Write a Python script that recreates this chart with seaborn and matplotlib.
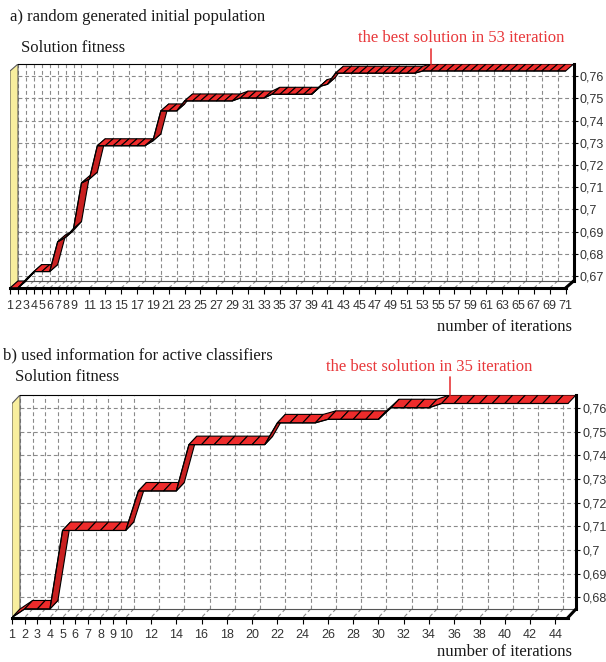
import numpy as np
import matplotlib
matplotlib.use("Agg")
import matplotlib.pyplot as plt
from matplotlib.patches import Polygon
import seaborn as sns

# Best solution fitness after each iteration
# a) random generated initial population (71 iterations)
fitness_a = [
    0.6677, 0.6677, 0.6715, 0.6751, 0.6751, 0.6751, 0.6885, 0.6905, 0.6945, 0.7150,
    0.7168, 0.7318, 0.7318, 0.7318, 0.7318, 0.7318, 0.7318, 0.7318, 0.7340, 0.7475,
    0.7475, 0.7475, 0.7520, 0.7520, 0.7520, 0.7520, 0.7520, 0.7520, 0.7520, 0.7533,
    0.7533, 0.7533, 0.7533, 0.7550, 0.7550, 0.7550, 0.7550, 0.7550, 0.7550, 0.7585,
    0.7595, 0.7645, 0.7645, 0.7645, 0.7645, 0.7645, 0.7645, 0.7645, 0.7645, 0.7645,
    0.7645, 0.7645, 0.7655, 0.7655, 0.7655, 0.7655, 0.7655, 0.7655, 0.7655, 0.7655,
    0.7655, 0.7655, 0.7655, 0.7655, 0.7655, 0.7655, 0.7655, 0.7655, 0.7655, 0.7655,
    0.7655,
]
# b) used information for active classifiers (45 iterations)
fitness_b = [
    0.6750, 0.6786, 0.6786, 0.6786, 0.7118, 0.7118, 0.7118, 0.7118, 0.7118, 0.7118,
    0.7285, 0.7285, 0.7285, 0.7285, 0.7481, 0.7481, 0.7481, 0.7481, 0.7481, 0.7481,
    0.7481, 0.7573, 0.7573, 0.7573, 0.7573, 0.7588, 0.7588, 0.7588, 0.7588, 0.7588,
    0.7637, 0.7637, 0.7637, 0.7637, 0.7655, 0.7655, 0.7655, 0.7655, 0.7655, 0.7655,
    0.7655, 0.7655, 0.7655, 0.7655, 0.7655,
]

iter_labels_a = list(range(1, 10)) + list(range(11, 72, 2))
iter_labels_b = list(range(1, 11)) + list(range(12, 45, 2))
fitness_ticks_a = [0.67, 0.68, 0.69, 0.70, 0.71, 0.72, 0.73, 0.74, 0.75, 0.76]
fitness_ticks_b = [0.68, 0.69, 0.70, 0.71, 0.72, 0.73, 0.74, 0.75, 0.76]
best_iter_a = 53
best_iter_b = 35

title_a = "a) random generated initial population"
title_b = "b) used information for active classifiers"
y_title = "Solution fitness"
x_title = "number of iterations"

sns.set_theme(style="white")
plt.rcParams["font.family"] = ["Liberation Sans", "DejaVu Sans"]
SERIF = ["Liberation Serif", "DejaVu Serif"]

W, H = 606, 662
fig = plt.figure(figsize=(W / 100, H / 100), dpi=100)

RIBBON_TOP = "#ee2b2b"
RIBBON_SIDE = "#c92020"
WALL = "#f8ee9e"
GRID = "#8a8a8a"
RED = "#e8383b"
TEXT = "#1a1a1a"
TICK_TEXT = "#333333"
DASH = (0, (3.5, 2.5))


def fx(px):
    return px / W


def fy(py):
    return 1 - py / H


def draw_panel(back_px, depth_px, fitness, iter_labels, y_ticks, best_iter, marker_px):
    """3D ribbon chart; back_px = (left, top, right, bottom) of the back wall in pixels."""
    left, top, right, bottom = back_px
    ddx, ddy = depth_px
    fit = np.asarray(fitness, dtype=float)
    n = len(fit)
    it = np.arange(1, n + 1)
    vmin, vmax = fit.min(), fit.max()
    upx = (n - 1) / (right - left)          # iterations per pixel
    vpx = (vmax - vmin) / (bottom - top)    # fitness per pixel
    dx, dy = ddx * upx, ddy * vpx           # depth of the box in data units

    ax = fig.add_axes([fx(left - ddx), fy(bottom + ddy),
                       (right - left + ddx) / W, (bottom + ddy - top) / H])
    ax.set_facecolor("white")

    # back wall grid
    ax.hlines(y_ticks, 1, n, colors=GRID, linestyles=DASH, lw=0.8, zorder=1)
    ax.vlines(iter_labels, vmin, vmax, colors=GRID, linestyles=DASH, lw=0.8, zorder=1)
    ax.hlines(vmin, 1, n, colors="#555555", lw=0.8, zorder=2)

    # floor grid
    for t in iter_labels:
        ax.plot([t, t - dx], [vmin, vmin - dy], color=GRID, lw=0.8, ls=DASH, zorder=1)

    # left wall
    ax.add_patch(Polygon([(1, vmin), (1, vmax), (1 - dx, vmax - dy), (1 - dx, vmin - dy)],
                         closed=True, fc=WALL, ec="#5a5a5a", lw=0.8, zorder=2))

    # right floor edge
    ax.plot([n, n - dx], [vmin, vmin - dy], color="black", lw=2.2,
            solid_capstyle="projecting", clip_on=False, zorder=3)

    # ribbon, one face per segment
    for i in range(n - 1):
        x0, x1 = it[i], it[i + 1]
        y0, y1 = fit[i], fit[i + 1]
        sx = (x1 - x0) / upx
        sy = (y1 - y0) / vpx
        face = RIBBON_TOP if sx * ddy - sy * ddx >= 0 else RIBBON_SIDE
        ax.add_patch(Polygon([(x0 - dx, y0 - dy), (x1 - dx, y1 - dy), (x1, y1), (x0, y0)],
                             closed=True, fc=face, ec="black", lw=0.8,
                             joinstyle="miter", zorder=4))
    # front edge of the ribbon
    sns.lineplot(x=it - dx, y=fit - dy, ax=ax, color="black", linewidth=0.8,
                 estimator=None, sort=False, zorder=5)
    ax.set_xlabel("")
    ax.set_ylabel("")

    # frame
    ax.spines["left"].set_visible(False)
    ax.spines["top"].set_bounds(1, n)
    ax.spines["top"].set_color("black")
    ax.spines["top"].set_linewidth(0.8)
    ax.spines["right"].set_bounds(vmin, vmax)
    ax.spines["right"].set_color("black")
    ax.spines["right"].set_linewidth(2.2)
    ax.spines["bottom"].set_bounds(1 - dx, n - dx)
    ax.spines["bottom"].set_color("black")
    ax.spines["bottom"].set_linewidth(2.2)

    # axes ticks: categories on the front edge, fitness on the back-right edge
    ax.set_xticks(np.asarray(iter_labels) - dx, labels=[str(t) for t in iter_labels])
    ax.tick_params(axis="x", bottom=True, direction="out", length=4, width=0.8,
                   color="black", pad=4.5, labelsize=9, labelcolor=TICK_TEXT)
    ax.yaxis.tick_right()
    ax.set_yticks(y_ticks, labels=[f"{t:g}".replace(".", ",") for t in y_ticks])
    ax.tick_params(axis="y", right=True, left=False, direction="out", length=3,
                   width=0.8, color="black", pad=1.5, labelsize=9, labelcolor=TICK_TEXT)

    ax.set_xlim(1 - dx, n)
    ax.set_ylim(vmin - dy, vmax)

    # best solution marker
    ax.plot([best_iter, best_iter], [vmax, vmax + marker_px * vpx], color=RED,
            lw=1.2, clip_on=False, zorder=6)
    return ax


draw_panel((18, 64, 573.6, 281), (8, 7), fitness_a, iter_labels_a,
           fitness_ticks_a, best_iter_a, 15)
draw_panel((20, 395, 576, 609), (8, 8.5), fitness_b, iter_labels_b,
           fitness_ticks_b, best_iter_b, 18)

txt = dict(family=SERIF, fontsize=12, color=TEXT, va="center")
fig.text(fx(10), fy(17), title_a, ha="left", **txt)
fig.text(fx(21), fy(48), y_title, ha="left", **txt)
fig.text(fx(572), fy(327), x_title, ha="right", **txt)
fig.text(fx(461), fy(38), f"the best solution in {best_iter_a} iteration",
         ha="center", family=SERIF, fontsize=12, color=RED, va="center")

fig.text(fx(3), fy(355), title_b, ha="left", **txt)
fig.text(fx(15), fy(377), y_title, ha="left", **txt)
fig.text(fx(572), fy(652), x_title, ha="right", **txt)
fig.text(fx(429), fy(367), f"the best solution in {best_iter_b} iteration",
         ha="center", family=SERIF, fontsize=12, color=RED, va="center")

fig.savefig("out.png", dpi=100)
